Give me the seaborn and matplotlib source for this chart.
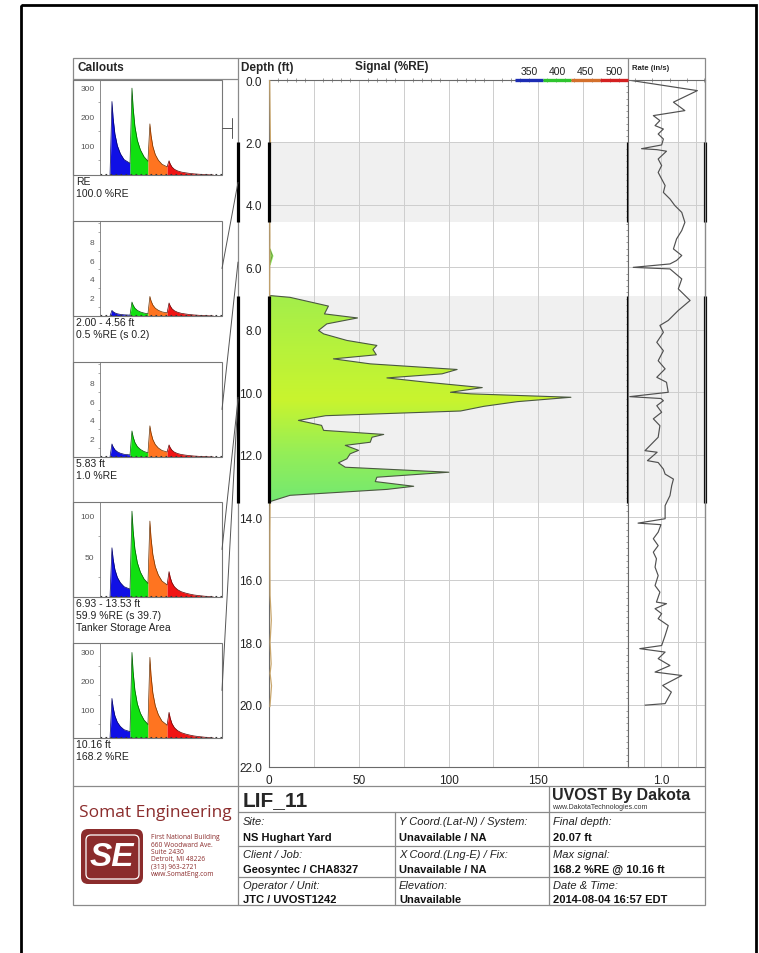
import numpy as np
import matplotlib
matplotlib.use("Agg")
import matplotlib.pyplot as plt
import matplotlib.transforms as mtrans
from matplotlib.patches import Rectangle, FancyBboxPatch, Polygon, ConnectionPatch
from matplotlib.colors import LinearSegmentedColormap
from matplotlib.ticker import MultipleLocator, FixedLocator, FixedFormatter, FormatStrFormatter
import seaborn as sns

sig_depth = [6.90, 6.96, 7.24, 7.49, 7.62, 7.81, 8.02, 8.13, 8.34, 8.50, 8.63, 8.80, 8.93, 9.09,
             9.27, 9.41, 9.54, 9.68, 9.85, 10.00, 10.05, 10.16, 10.30, 10.45, 10.60, 10.75, 10.90,
             11.06, 11.22, 11.35, 11.44, 11.60, 11.70, 11.86, 11.97, 12.13, 12.26, 12.40, 12.56,
             12.72, 12.86, 13.01, 13.11, 13.30, 13.50, 13.62]
sig_val = [0, 11.7, 33.1, 30.9, 49.3, 32.2, 27.6, 30.4, 43.4, 60.1, 57.9, 59.8, 35.9, 56.4,
           104.8, 96.4, 65.7, 88.1, 118.8, 101.1, 112.3, 168.2, 138.4, 119.7, 106.7, 31.6, 16.4,
           29.3, 30.4, 63.9, 57.4, 56.4, 42.5, 49.9, 45.2, 43.4, 38.7, 42.5, 100.2,
           60.1, 59.2, 80.6, 65.7, 11.7, 0.6, 0]

blip_depth = [5.40, 5.62, 5.90]
blip_val = [0.3, 1.8, 0.3]

noise_depth = [0.0, 1.0, 2.0, 3.0, 4.0, 5.0, 6.5, 13.7, 14.5, 15.5, 16.5, 17.3, 18.0, 18.7, 19.0, 19.4, 20.07]
noise_val = [0.4, 0.6, 0.8, 0.5, 0.4, 0.5, 0.4, 0.6, 0.5, 0.5, 0.6, 1.3, 0.6, 1.2, 0.6, 1.4, 0.5]

rate_depth = [0.00, 0.34, 0.71, 0.98, 1.14, 1.30, 1.46, 1.57, 1.73, 1.89, 2.08, 2.20, 2.23, 2.28,
              2.53, 2.74, 2.96, 3.17, 3.38, 3.60, 3.81, 4.02, 4.24, 4.56, 4.82, 5.09, 5.41, 5.62,
              5.78, 5.89, 6.00, 6.05, 6.37, 6.69, 7.06, 7.38, 7.70, 7.86, 8.08, 8.40, 8.67, 8.99,
              9.25, 9.52, 9.68, 10.00, 10.14, 10.20, 10.27, 10.43, 10.64, 10.85, 11.07, 11.44,
              11.87, 11.92, 12.19, 12.25, 12.46, 12.62, 12.78, 12.99, 13.31, 13.63, 14.05, 14.19,
              14.24, 14.48, 14.69, 14.91, 15.12, 15.33, 15.60, 15.87, 16.19, 16.40, 16.72, 16.77,
              16.93, 17.09, 17.25, 17.47, 17.79, 18.11, 18.21, 18.32, 18.53, 18.75, 18.96, 19.07,
              19.39, 19.60, 19.97, 20.02]
rate_val = [0.05, 2.05, 1.36, 1.69, 0.78, 0.97, 0.83, 1.07, 0.92, 1.07, 1.02, 0.44, 0.88, 1.16,
            0.92, 1.02, 0.92, 1.02, 1.12, 1.07, 1.26, 1.40, 1.60, 1.69, 1.60, 1.45, 1.36, 1.60,
            1.45, 1.26, 0.20, 1.26, 1.60, 1.50, 1.84, 1.50, 1.21, 0.97, 1.07, 0.88, 1.07, 0.92,
            1.12, 0.88, 1.16, 1.21, 0.10, 1.00, 1.07, 0.88, 1.02, 0.78, 0.97, 0.92,
            0.54, 0.89, 0.61, 0.92, 1.07, 1.12, 1.36, 1.31, 1.26, 1.12, 1.12, 0.34,
            1.00, 0.92, 0.78, 0.92, 0.78, 0.87, 0.83, 0.92, 0.83, 0.97, 0.87, 1.16,
            0.83, 1.02, 0.92, 1.21, 1.12, 1.02, 0.39, 1.12, 0.92, 1.26, 0.83, 1.60,
            1.05, 1.30, 1.12, 0.54]

zone_ranges = [(2.00, 4.56), (6.93, 13.53)]

# callout waveforms: one pulse shape per channel, scaled by the peak read from each callout
pulse_dt = [0, 1.6, 2.5, 4.0, 6.0, 8.5, 11.5, 14.7]
pulse_shape = [0, 1.0, 0.78, 0.56, 0.40, 0.29, 0.21, 0.16]
tail_dt = [18, 22, 27, 33, 38]
tail_shape = [0.12, 0.08, 0.05, 0.02, 0]
chan_start = [8.2, 24.6, 39.3, 55.0]
chan_names = ["350", "400", "450", "500"]

callout_peaks = [[253, 299, 176, 49],
                 [0.6, 1.5, 2.1, 1.4],
                 [1.4, 2.8, 3.35, 1.3],
                 [60.6, 105.7, 93.5, 31.3],
                 [138, 298, 281, 89.5]]
callout_ymax = [327, 10.2, 10.2, 117, 331]
callout_yticks = [[100, 200, 300], [2, 4, 6, 8], [2, 4, 6, 8], [50, 100], [100, 200, 300]]
callout_text = [["RE", "100.0 %RE"],
                ["2.00 - 4.56 ft", "0.5 %RE (s 0.2)"],
                ["5.83 ft", "1.0 %RE"],
                ["6.93 - 13.53 ft", "59.9 %RE (s 39.7)", "Tanker Storage Area"],
                ["10.16 ft", "168.2 %RE"]]
callout_depth = [None, 3.28, 5.83, 10.23, 10.16]

info_labels = [["Site:", "Y Coord.(Lat-N) / System:", "Final depth:"],
               ["Client / Job:", "X Coord.(Lng-E) / Fix:", "Max signal:"],
               ["Operator / Unit:", "Elevation:", "Date & Time:"]]
info_values = [["NS Hughart Yard", "Unavailable / NA", "20.07 ft"],
               ["Geosyntec / CHA8327", "Unavailable / NA", "168.2 %RE @ 10.16 ft"],
               ["JTC / UVOST1242", "Unavailable", "2014-08-04 16:57 EDT"]]
address = ["First National Building", "660 Woodward Ave.", "Suite 2430",
           "Detroit, MI 48226", "(313) 963-2721", "www.SomatEng.com"]

# --- style ---
fill_cols = ["#1010e6", "#10e010", "#ff7420", "#f01414"]
edge_cols = ["#000060", "#005000", "#6a3000", "#600000"]
legend_cols = ["#1c2cb4", "#2ec42e", "#d4702c", "#d42020"]
maroon = "#8b2c2c"
W, H = 759, 954

sns.set_theme(style="white")
plt.rcParams["font.family"] = ["Liberation Sans", "DejaVu Sans"]
plt.rcParams["axes.edgecolor"] = "#6a6a6a"
plt.rcParams["axes.linewidth"] = 0.8


def px_box(x0, y0, x1, y1):
    return [x0 / W, 1 - y1 / H, (x1 - x0) / W, (y1 - y0) / H]


fig = plt.figure(figsize=(W / 100, H / 100), dpi=100)

# ---------- signal panel ----------
ax = fig.add_axes(px_box(269, 81, 628, 768))
for d0, d1 in zone_ranges:
    ax.axhspan(d0, d1, color="#f0f0f0", lw=0, zorder=0.1)

cmap = LinearSegmentedColormap.from_list("sig", ["#6fe874", "#94ee58", "#c9f42e", "#b6f23c", "#a2ee4c"])
img = ax.imshow(np.linspace(0, 1, 200).reshape(-1, 1), cmap=cmap, extent=(0, 200, 13.7, 6.8),
                origin="lower", aspect="auto", zorder=2, interpolation="bilinear")
verts = [(0, sig_depth[0])] + list(zip(sig_val, sig_depth)) + [(0, sig_depth[-1])]
clip = Polygon(verts, closed=True, transform=ax.transData, fc="none", ec="none")
ax.add_patch(clip)
img.set_clip_path(clip)
sns.lineplot(x=sig_val, y=sig_depth, sort=False, estimator=None, color="#4a5840", lw=0.8, ax=ax, zorder=3)

ax.fill_betweenx(blip_depth, 0, blip_val, color="#8eee5e", zorder=2)
sns.lineplot(x=blip_val, y=blip_depth, sort=False, estimator=None, color="#6c8a40", lw=0.6, ax=ax, zorder=3)
sns.lineplot(x=noise_val, y=noise_depth, sort=False, estimator=None, color="#c9a66c", lw=0.9, ax=ax, zorder=3)

ax.set_xlim(0, 200)
ax.set_ylim(22, 0)
ax.set_xlabel("")
ax.set_ylabel("")
ax.xaxis.set_major_locator(FixedLocator(np.arange(0, 201, 25)))
ax.xaxis.set_major_formatter(FixedFormatter(["0", "", "50", "", "100", "", "150", "", ""]))
ax.xaxis.set_minor_locator(MultipleLocator(5))
ax.yaxis.set_major_locator(MultipleLocator(2))
ax.yaxis.set_major_formatter(FormatStrFormatter("%.1f"))
ax.yaxis.set_minor_locator(MultipleLocator(0.2))
ax.grid(True, which="major", color="#cdcdcd", lw=0.7)
ax.set_axisbelow(True)
ax.tick_params(which="major", direction="out", length=3.5, width=0.7, color="#555",
               labelsize=8.5, pad=1.5, labelcolor="#222")
ax.tick_params(which="minor", direction="inout", length=3, width=0.5, color="#777",
               top=True, right=True)

# ---------- rate panel ----------
rax = fig.add_axes(px_box(628, 81, 705, 768))
for d0, d1 in zone_ranges:
    rax.axhspan(d0, d1, color="#f0f0f0", lw=0, zorder=0.1)
sns.lineplot(x=rate_val, y=rate_depth, sort=False, estimator=None, color="#505050", lw=0.85, ax=rax)
rax.set_xlim(0.05, 2.27)
rax.set_ylim(22, 0)
rax.set_xlabel("")
rax.set_ylabel("")
rax.xaxis.set_major_locator(FixedLocator([0.5, 1.0, 1.5, 2.0]))
rax.xaxis.set_major_formatter(FixedFormatter(["", "1.0", "", ""]))
rax.xaxis.set_minor_locator(MultipleLocator(0.25))
rax.yaxis.set_major_locator(MultipleLocator(2))
rax.yaxis.set_minor_locator(MultipleLocator(0.2))
rax.set_yticklabels([])
rax.grid(True, which="major", color="#cdcdcd", lw=0.7)
rax.set_axisbelow(True)
rax.tick_params(which="major", direction="out", length=3.5, width=0.7, color="#555",
                labelsize=8.5, pad=1.5)
rax.tick_params(axis="y", which="major", length=0)
rax.tick_params(which="minor", direction="inout", length=3, width=0.5, color="#777", top=True)

# thick bars marking the callout zones on the axis lines
for d0, d1 in zone_ranges:
    for a, xa in [(ax, 0), (ax, 1), (rax, 1)]:
        a.plot([xa, xa], [d0, d1], transform=mtrans.blended_transform_factory(a.transAxes, a.transData),
               color="black", lw=2.3, clip_on=False, zorder=6, solid_capstyle="butt")

# ---------- callouts ----------
co_top = [81, 222, 363, 503, 644]
co_h = 95
cax_list = []
for i, top in enumerate(co_top):
    cax = fig.add_axes(px_box(100, top, 222, top + co_h))
    cax_list.append(cax)
    peaks = callout_peaks[i]
    prev_end = 0
    for k in range(4):
        xs = [chan_start[k] + d for d in pulse_dt]
        ys = [peaks[k] * s for s in pulse_shape]
        ys[0] = prev_end
        if k < 3:
            xs[-1] = chan_start[k + 1]
        else:
            xs = xs + [chan_start[k] + d for d in tail_dt]
            ys = ys + [peaks[k] * s for s in tail_shape]
        prev_end = ys[-1]
        cax.fill_between(xs, 0, ys, color=fill_cols[k], lw=0)
        sns.lineplot(x=xs, y=ys, sort=False, estimator=None, color=edge_cols[k], lw=0.5, ax=cax)
    cax.plot([0, 100], [callout_ymax[i] * 0.012] * 2, color="#333", lw=0.8, ls=(0, (1.5, 3)))
    cax.set_xlim(0, 100)
    cax.set_ylim(0, callout_ymax[i])
    cax.set_xlabel("")
    cax.set_ylabel("")
    cax.set_xticks([])
    cax.set_yticks(callout_yticks[i])
    cax.yaxis.set_minor_locator(MultipleLocator(callout_yticks[i][0] / 2))
    cax.tick_params(axis="y", which="major", direction="out", length=3, width=0.5, color="#666",
                    labelsize=6, labelcolor="#555", pad=1)
    cax.tick_params(axis="y", which="minor", direction="out", length=1.5, width=0.4, color="#666", left=True)
    for s in ["top", "right", "bottom"]:
        cax.spines[s].set_visible(False)
    cax.spines["left"].set_color("#777")
    cax.spines["left"].set_linewidth(0.6)

# ---------- overlay (page furniture) ----------
ov = fig.add_axes([0, 0, 1, 1])
ov.set_xlim(0, W)
ov.set_ylim(H, 0)
ov.axis("off")

ov.add_patch(Rectangle((21, 6), 735, 960, fill=False, ec="black", lw=2))
ov.add_patch(Rectangle((73, 59), 632, 847, fill=False, ec="#8a8a8a", lw=0.9))
ov.plot([238, 238], [59, 906], color="#8a8a8a", lw=0.9)
ov.plot([628, 628], [59, 81], color="#8a8a8a", lw=0.9)
ov.plot([73, 238], [80, 80], color="#8a8a8a", lw=0.9)
ov.plot([73, 705], [787, 787], color="#8a8a8a", lw=0.9)
for yl in [813, 847, 878]:
    ov.plot([238, 705], [yl, yl], color="#8a8a8a", lw=0.9)
ov.plot([395, 395], [813, 906], color="#8a8a8a", lw=0.9)
ov.plot([549, 549], [787, 906], color="#8a8a8a", lw=0.9)

# headers
ov.text(77, 68, "Callouts", fontsize=8.5, fontweight="bold", va="center")
ov.text(241, 68, "Depth (ft)", fontsize=8.5, fontweight="bold", va="center")
ov.text(392, 67, "Signal (%RE)", fontsize=8.5, fontweight="bold", va="center", ha="center")
ov.text(632, 68, "Rate (in/s)", fontsize=5.5, fontweight="bold", va="center")
seg = [515, 543, 571, 600, 628]
for k in range(4):
    ov.plot([seg[k], seg[k + 1]], [80.5, 80.5], color=legend_cols[k], lw=2.4, solid_capstyle="butt")
    ov.text((seg[k] + seg[k + 1]) / 2, 72, chan_names[k], fontsize=7.5, ha="center", va="center", color="#222")

# callout frames, captions and connectors
blend = mtrans.blended_transform_factory(ov.transData, ax.transData)
for i, top in enumerate(co_top):
    ov.add_patch(Rectangle((73, top), 149, co_h, fill=False, ec="#777", lw=0.8))
    for j, line in enumerate(callout_text[i]):
        ov.text(76, top + co_h + 6 + 12 * j, line, fontsize=7.5, va="center", color="#222")
    if callout_depth[i] is None:
        mid = top + co_h / 2
        ov.plot([222, 232], [mid, mid], color="#555", lw=0.7)
        ov.plot([232, 232], [mid - 10, mid + 10], color="#555", lw=0.7)
    else:
        con = ConnectionPatch(xyA=(1, 0.5), coordsA=cax_list[i].transAxes,
                              xyB=(238, callout_depth[i]), coordsB=blend, color="#555", lw=0.7)
        fig.add_artist(con)
for d0, d1 in zone_ranges:
    ov.plot([238, 238], [d0, d1], transform=blend, color="black", lw=2.3, solid_capstyle="butt")

# ---------- title block ----------
ov.text(155, 813, "Somat Engineering", fontsize=12.5, color=maroon, ha="center", va="center",
        family=["Open Sans", "DejaVu Sans"])
ov.add_patch(FancyBboxPatch((81, 830), 62, 55, boxstyle="round,pad=0,rounding_size=7", fc=maroon, ec="none"))
ov.add_patch(FancyBboxPatch((86, 836), 53, 44, boxstyle="round,pad=0,rounding_size=5", fc="none", ec="white", lw=0.9))
ov.text(112, 858, "SE", fontsize=24, color="white", fontweight="bold", style="italic", ha="center", va="center")
for j, line in enumerate(address):
    ov.text(151, 838 + 7.3 * j, line, fontsize=4.8, color=maroon, va="center",
            family=["Open Sans", "DejaVu Sans"])

ov.text(243, 801, "LIF_11", fontsize=15, fontweight="bold", va="center")
ov.text(552, 796, "UVOST By Dakota", fontsize=11.5, fontweight="bold", va="center")
ov.text(552, 808, "www.DakotaTechnologies.com", fontsize=5, va="center", color="#333")
col_x = [243, 399, 553]
lab_y = [822, 855, 886]
val_y = [838, 870, 900]
for r in range(3):
    for c in range(3):
        ov.text(col_x[c], lab_y[r], info_labels[r][c], fontsize=8, style="italic", va="center", color="#222")
        ov.text(col_x[c], val_y[r], info_values[r][c], fontsize=8, fontweight="bold", va="center", color="#111")

fig.savefig("out.png", dpi=100)
